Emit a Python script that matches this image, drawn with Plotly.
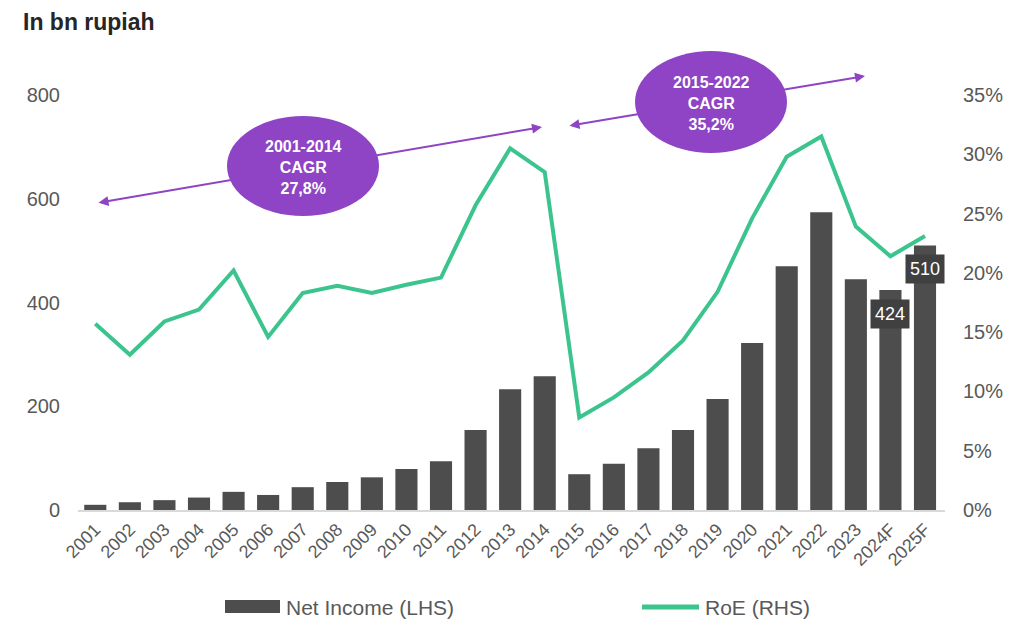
import plotly.graph_objects as go

years = ["2001", "2002", "2003", "2004", "2005", "2006", "2007", "2008", "2009", "2010",
         "2011", "2012", "2013", "2014", "2015", "2016", "2017", "2018", "2019", "2020",
         "2021", "2022", "2023", "2024F", "2025F"]
net_income = [10, 15, 19, 24, 35, 29, 44, 54, 63, 79,
              94, 154, 233, 258, 69, 89, 119, 154, 214, 322,
              470, 574, 445, 424, 510]
roe = [0.157, 0.131, 0.159, 0.169, 0.202, 0.146, 0.183, 0.189, 0.183, 0.190,
       0.196, 0.257, 0.305, 0.285, 0.078, 0.095, 0.116, 0.143, 0.184, 0.246,
       0.298, 0.315, 0.239, 0.214, 0.231]
left_ticks = [0, 200, 400, 600, 800]
right_ticks = [0, 0.05, 0.10, 0.15, 0.20, 0.25, 0.30, 0.35]
right_labels = ["0%", "5%", "10%", "15%", "20%", "25%", "30%", "35%"]
labelled = {"2024F": 424, "2025F": 510}
cagr_boxes = ["2001-2014<br>CAGR<br>27,8%", "2015-2022<br>CAGR<br>35,2%"]
series_names = ["Net Income (LHS)", "RoE (RHS)"]

W, H = 1024, 633
L, R, T, B = 78, 945, 95, 510
FONT = "Liberation Sans, Arial, sans-serif"
GREY = "#595959"
PURPLE = "#8E44C4"
BAR = "#4D4D4D"
GREEN = "#3CC48E"


def px(x):
    return (x - L) / (R - L)


def py(y):
    return (B - y) / (B - T)


fig = go.Figure()
fig.add_trace(go.Bar(x=years, y=net_income, name=series_names[0],
                     marker=dict(color=BAR, line=dict(width=0))))
fig.add_trace(go.Scatter(x=years, y=roe, name=series_names[1], yaxis="y2", mode="lines",
                         line=dict(color=GREEN, width=4)))

annotations = []
for k, v in labelled.items():
    annotations.append(dict(x=k, y=v, xref="x", yref="y", text=str(v), showarrow=False,
                            yshift=-24, bgcolor="#404040", borderpad=4,
                            font=dict(color="white", size=18, family=FONT)))

# arrows (double headed)
for (x0, y0, x1, y1) in [(97, 203, 542, 127), (568, 126, 865, 76)]:
    annotations.append(dict(x=px(x1), y=py(y1), xref="paper", yref="paper",
                            ax=x0 - x1, ay=y0 - y1, axref="pixel", ayref="pixel",
                            showarrow=True, arrowhead=2, startarrowhead=2, arrowside="end+start",
                            arrowsize=1, startarrowsize=1, arrowwidth=2, arrowcolor=PURPLE, text=""))

shapes = []
for (cx, cy, rw, rh), txt in zip([(303, 166, 76, 50), (711, 102, 76, 51)], cagr_boxes):
    shapes.append(dict(type="circle", xref="paper", yref="paper",
                       x0=px(cx - rw), x1=px(cx + rw), y0=py(cy + rh), y1=py(cy - rh),
                       fillcolor=PURPLE, line=dict(width=0), layer="above"))
    annotations.append(dict(x=px(cx), y=py(cy + 1), xref="paper", yref="paper", text="<b>" + txt + "</b>",
                            showarrow=False, xanchor="center", yanchor="middle",
                            font=dict(color="white", size=16, family=FONT)))

annotations.append(dict(x=px(21), y=py(22), xref="paper", yref="paper", text="<b>In bn rupiah</b>",
                        showarrow=False, xanchor="left", yanchor="middle",
                        font=dict(color="#262626", size=23, family=FONT)))

# manual legend
shapes.append(dict(type="rect", xref="paper", yref="paper", x0=px(225), x1=px(280),
                   y0=py(613), y1=py(600), fillcolor=BAR, line=dict(width=0)))
shapes.append(dict(type="line", xref="paper", yref="paper", x0=px(642), x1=px(699),
                   y0=py(607), y1=py(607), line=dict(color=GREEN, width=5)))
annotations.append(dict(x=px(284), y=py(607), xref="paper", yref="paper", text=series_names[0],
                        showarrow=False, xanchor="left", yanchor="middle",
                        font=dict(color=GREY, size=21, family=FONT)))
annotations.append(dict(x=px(703), y=py(607), xref="paper", yref="paper", text=series_names[1],
                        showarrow=False, xanchor="left", yanchor="middle",
                        font=dict(color=GREY, size=21, family=FONT)))

fig.update_layout(
    width=W, height=H,
    margin=dict(l=L, r=W - R, t=T, b=H - B, autoexpand=False),
    paper_bgcolor="white", plot_bgcolor="white",
    font=dict(family=FONT, color=GREY, size=17),
    bargap=0.36,
    showlegend=False,
    xaxis=dict(type="category", tickangle=-45, showgrid=False, showline=True,
               linecolor="#D9D9D9", linewidth=2, ticks="", tickfont=dict(size=18, color=GREY)),
    yaxis=dict(range=[0, 800], tickvals=left_ticks, showgrid=False, zeroline=False,
               ticks="", ticklabelstandoff=17, tickfont=dict(size=20, color=GREY)),
    yaxis2=dict(range=[0, 0.35], overlaying="y", side="right", tickvals=right_ticks,
                ticktext=right_labels, showgrid=False, zeroline=False, ticks="",
                ticklabelstandoff=17, tickfont=dict(size=20, color=GREY)),
    shapes=shapes,
    annotations=annotations,
)

fig.write_html("out.html", config={"displayModeBar": False},
               post_script="document.body.style.margin='0';")
